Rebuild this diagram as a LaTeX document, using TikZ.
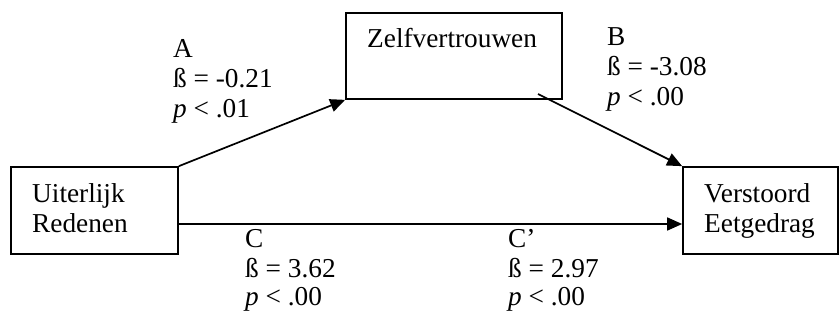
\documentclass[tikz,border=0pt]{standalone}
\usepackage{fontspec}
\setmainfont{Liberation Serif}
\usetikzlibrary{arrows.meta}
\begin{document}
\begin{tikzpicture}[x=1pt,y=-1pt,
  box/.style={draw,line width=1.7pt,inner sep=0pt},
  lbl/.style={anchor=base west,inner sep=0pt,font=\fontsize{27.3}{30}\selectfont},
  conn/.style={line width=1.7pt,-{Triangle[length=15pt,width=13pt]}}]
\useasboundingbox (0,0) rectangle (840,324);
% boxes
\node[box,minimum width=167pt,minimum height=87pt] (ur) at (94.5,210.5) {};
\node[box,minimum width=216pt,minimum height=86pt] (zv) at (454,56) {};
\node[box,minimum width=155pt,minimum height=87pt] (ve) at (760.5,210.5) {};
% box texts
\node[lbl] (t1) at (32,202) {Uiterlijk};
\node[lbl] (t2) at (32,232) {Redenen};
\node[lbl] (t3) at (367,47) {Zelfvertrouwen};
\node[lbl] (t4) at (704,202) {Verstoord};
\node[lbl] (t5) at (704,232) {Eetgedrag};
% connectors
\coordinate (bs) at (538,94);
\coordinate (cy) at (0,224);
\draw[conn] (ur.north east) -- (zv.south west);
\draw[conn] (bs) -- (ve.north west);
\draw[conn] (ur.east |- cy) -- (ve.west |- cy);
% path labels
\node[lbl] (a1) at (173,57) {A};
\node[lbl] (a2) at (173,87) {ß = -0.21};
\node[lbl] (a3) at (173,117) {\textit{p} < .01};
\node[lbl] (b1) at (607,45) {B};
\node[lbl] (b2) at (607,75) {ß = -3.08};
\node[lbl] (b3) at (607,105) {\textit{p} < .00};
\node[lbl] (c1) at (245,247) {C};
\node[lbl] (c2) at (245,277) {ß = 3.62};
\node[lbl] (c3) at (245,305) {\textit{p} < .00};
\node[lbl] (d1) at (508,247) {C’};
\node[lbl] (d2) at (508,277) {ß = 2.97};
\node[lbl] (d3) at (508,305) {\textit{p} < .00};
\end{tikzpicture}
\end{document}
